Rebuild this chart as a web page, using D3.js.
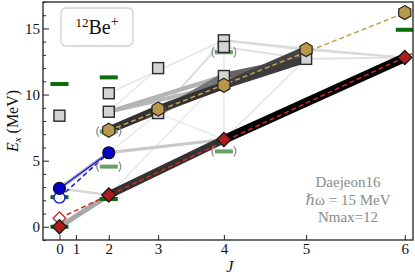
<!DOCTYPE html>
<html>
<head>
<meta charset="utf-8">
<script src="https://cdn.jsdelivr.net/npm/d3@7"></script>
<style>
body { margin: 0; background: #fff; }
svg { display: block; }
text { font-family: "Liberation Serif", "DejaVu Serif", serif; }
</style>
</head>
<body>
<div id="chart"></div>
<script>
// J values shown on the axis (axis runs in J(J+1))
var jTicks = [0, 1, 2, 3, 4, 5, 6];
var yMajor = [0, 5, 10, 15];

// yrast band (red diamonds)
var redJ = [0, 2, 4, 6];
var redE = [0, 2.4, 6.6, 12.8];
// second 0+ band (blue circles)
var blueJ = [0, 2];
var blueE = [2.9, 5.6];
// gold band (hexagons)
var goldJ = [2, 3, 4, 5, 6];
var goldE = [7.3, 8.9, 10.7, 13.4, 16.2];
// other calculated states (grey squares)
var otherJ = [0, 2, 2, 3, 3, 4, 4, 4, 5];
var otherE = [8.4, 10.1, 8.7, 12.0, 8.6, 14.1, 13.6, 11.4, 12.7];
// experimental levels
var expJ = [0, 0, 0, 2, 2, 6];
var expE = [0, 2.24, 10.8, 2.1, 11.3, 14.9];
// tentative experimental levels
var tentJ = [2, 2, 4, 4];
var tentE = [7.2, 4.55, 13.2, 5.7];

// rotational fits: E = a + b J(J+1)
var fitRed = { a: 0.65, b: 0.29, from: 0, to: 6.6 };
var fitBlue = { a: 2.2, b: 0.567, from: 0, to: 2 };
var fitGold = { a: 5.8, b: 0.247, from: 2, to: 6 };

// E2 transitions: [J1, E1, J2, E2, relative strength]
var transitions = [
    [4, 6.6, 6, 12.8, 1.0],
    [2, 2.4, 4, 6.6, 0.85],
    [0, 0, 2, 2.4, 0.5],
    [0, 2.9, 2, 5.6, 0.35],
    [2, 7.3, 3, 8.9, 0.85],
    [3, 8.9, 4, 10.7, 0.85],
    [4, 10.7, 5, 13.4, 0.8],
    [4, 10.7, 5, 12.7, 0.82],
    [2, 7.3, 4, 10.7, 0.7],
    [3, 8.6, 4, 11.4, 0.65],
    [4, 11.4, 5, 12.7, 0.7],
    [2, 8.7, 4, 11.4, 0.42],
    [2, 8.7, 4, 10.7, 0.38],
    [2, 5.6, 4, 6.6, 0.28],
    [0, 2.9, 2, 2.4, 0.18],
    [3, 8.6, 4, 14.1, 0.14],
    [4, 14.1, 5, 13.4, 0.16],
    [4, 13.6, 5, 12.7, 0.12],
    [5, 13.4, 6, 12.8, 0.16],
    [5, 12.7, 6, 12.8, 0.12],
    [4, 14.1, 6, 12.8, 0.1],
    [4, 6.6, 4, 13.6, 0.06],
    [2, 2.4, 4, 11.4, 0.06],
    [4, 6.6, 5, 12.7, 0.08],
    [3, 8.6, 4, 6.6, 0.06],
    [2, 5.6, 3, 8.6, 0.06],
    [2, 10.1, 4, 14.1, 0.08],
    [3, 12.0, 2, 8.7, 0.06]
];

var width = 415, height = 277;
var margin = { top: 2, right: 2, bottom: 37, left: 43 };
var w = width - margin.left - margin.right,
    h = height - margin.top - margin.bottom;

function jj(J) { return J * (J + 1); }

var x = d3.scaleLinear().domain([-2, 43]).range([0, w]);
var y = d3.scaleLinear().domain([-1, 17]).range([h, 0]);
var strokeW = d3.scaleLinear().domain([0, 1]).range([1, 9]);
var strokeC = d3.scaleLinear().domain([0, 0.5, 1]).range(["#f2f2f2", "#a8a8a8", "#000000"]);

var svg = d3.select("#chart").append("svg")
    .attr("width", width)
    .attr("height", height);

svg.append("defs").append("clipPath").attr("id", "clip")
    .append("rect").attr("width", w).attr("height", h);

var g = svg.append("g")
    .attr("transform", "translate(" + margin.left + "," + margin.top + ")");

var plot = g.append("g").attr("clip-path", "url(#clip)");

// transitions, weak first
var tr = transitions.slice().sort(function (a, b) { return a[4] - b[4]; });
plot.selectAll("line.tr").data(tr).enter().append("line")
    .attr("class", "tr")
    .attr("x1", function (d) { return x(jj(d[0])); })
    .attr("y1", function (d) { return y(d[1]); })
    .attr("x2", function (d) { return x(jj(d[2])); })
    .attr("y2", function (d) { return y(d[3]); })
    .attr("stroke", function (d) { return strokeC(d[4]); })
    .attr("stroke-width", function (d) { return strokeW(d[4]); })
    .attr("stroke-linecap", "butt");

// blue band solid connector
plot.append("line")
    .attr("x1", x(jj(blueJ[0]))).attr("y1", y(blueE[0]))
    .attr("x2", x(jj(blueJ[1]))).attr("y2", y(blueE[1]))
    .attr("stroke", "#1010e0").attr("stroke-width", 1.2);

function fitLine(f, color) {
    var xs = [jj(f.from), f.to * (f.to + 1)];
    if (f.to > 6) xs[1] = 43;
    plot.append("line")
        .attr("x1", x(xs[0])).attr("y1", y(f.a + f.b * xs[0]))
        .attr("x2", x(xs[1])).attr("y2", y(f.a + f.b * xs[1]))
        .attr("stroke", color).attr("stroke-width", 1.5)
        .attr("stroke-dasharray", "5,3");
}
fitLine(fitRed, "#d02828");
fitLine(fitBlue, "#1a1ae0");
fitLine(fitGold, "#c4a050");

// experimental levels
plot.selectAll("rect.exp").data(expJ).enter().append("rect")
    .attr("class", "exp")
    .attr("x", function (d) { return x(jj(d)) - 9; })
    .attr("y", function (d, i) { return y(expE[i]) - 2; })
    .attr("width", 18).attr("height", 4)
    .attr("fill", "#0a6e0a");

// tentative levels with brackets
var tent = plot.selectAll("g.tent").data(tentJ).enter().append("g")
    .attr("class", "tent")
    .attr("transform", function (d, i) {
        return "translate(" + x(jj(d)) + "," + y(tentE[i]) + ")";
    });
tent.append("rect").attr("x", -9).attr("y", -2).attr("width", 18).attr("height", 4)
    .attr("fill", "#67a067");
tent.append("path").attr("d", "M-10,-5 Q-14,0 -10,5 M10,-5 Q14,0 10,5")
    .attr("fill", "none").attr("stroke", "#909090").attr("stroke-width", 1.3);

// open markers: fit intercepts
plot.append("path")
    .attr("d", d3.symbol(d3.symbolSquare, 80)())
    .attr("transform", "translate(" + x(0) + "," + y(fitRed.a) + ") rotate(45)")
    .attr("fill", "#fff").attr("stroke", "#c02020").attr("stroke-width", 1.3);
plot.append("circle")
    .attr("cx", x(0)).attr("cy", y(fitBlue.a)).attr("r", 5.5)
    .attr("fill", "#fff").attr("stroke", "#1010d0").attr("stroke-width", 1.3);

// grey squares
plot.selectAll("rect.other").data(otherJ).enter().append("rect")
    .attr("class", "other")
    .attr("x", function (d) { return x(jj(d)) - 5.5; })
    .attr("y", function (d, i) { return y(otherE[i]) - 5.5; })
    .attr("width", 11).attr("height", 11)
    .attr("fill", "#d3d3d3").attr("stroke", "#2a2a2a").attr("stroke-width", 1.4);

// hexagons
var hex = d3.range(6).map(function (k) {
    var a = Math.PI / 3 * k - Math.PI / 2;
    return [7 * Math.cos(a), 7 * Math.sin(a)];
});
plot.selectAll("path.gold").data(goldJ).enter().append("path")
    .attr("class", "gold")
    .attr("d", "M" + hex.join("L") + "Z")
    .attr("transform", function (d, i) {
        return "translate(" + x(jj(d)) + "," + y(goldE[i]) + ")";
    })
    .attr("fill", "#b8964a").attr("stroke", "#222").attr("stroke-width", 1.2);

// blue circles
plot.selectAll("circle.blue").data(blueJ).enter().append("circle")
    .attr("class", "blue")
    .attr("cx", function (d) { return x(jj(d)); })
    .attr("cy", function (d, i) { return y(blueE[i]); })
    .attr("r", 6)
    .attr("fill", "#0000c8").attr("stroke", "#111").attr("stroke-width", 1.2);

// red diamonds
plot.selectAll("path.red").data(redJ).enter().append("path")
    .attr("class", "red")
    .attr("d", d3.symbol(d3.symbolSquare, 100)())
    .attr("transform", function (d, i) {
        return "translate(" + x(jj(d)) + "," + y(redE[i]) + ") rotate(45)";
    })
    .attr("fill", "#ac1e1e").attr("stroke", "#111").attr("stroke-width", 1.2);

// axes
var xAxis = g.append("g")
    .attr("transform", "translate(0," + h + ")")
    .call(d3.axisBottom(x)
        .tickValues(jTicks.map(jj))
        .tickFormat(function (d, i) { return jTicks[i]; })
        .tickSizeInner(-5).tickSizeOuter(0).tickPadding(3));

var yAxis = g.append("g")
    .call(d3.axisLeft(y)
        .tickValues(yMajor)
        .tickSizeInner(-6).tickSizeOuter(0).tickPadding(3));

g.append("g")
    .call(d3.axisLeft(y)
        .tickValues(d3.range(-1, 18).filter(function (v) { return yMajor.indexOf(v) < 0; }))
        .tickFormat("").tickSizeInner(-3).tickSizeOuter(0))
    .select(".domain").remove();

g.selectAll(".tick line").attr("stroke", "#222").attr("stroke-width", 1);
g.selectAll(".tick text")
    .attr("font-size", 15).attr("fill", "#111")
    .style("font-family", "'Liberation Serif', serif");
g.selectAll(".domain").attr("stroke", "none");

g.append("rect")
    .attr("width", w).attr("height", h)
    .attr("fill", "none").attr("stroke", "#222").attr("stroke-width", 1.3);

// axis labels
var yl = svg.append("text")
    .attr("transform", "translate(18," + (margin.top + h / 2) + ") rotate(-90)")
    .attr("text-anchor", "middle")
    .attr("font-size", 16).attr("fill", "#111");
yl.append("tspan").attr("font-style", "italic").text("E");
yl.append("tspan").attr("font-style", "italic").attr("font-size", 11).attr("dy", 3).text("x");
yl.append("tspan").attr("dy", -3).text(" (MeV)");

svg.append("text")
    .attr("x", margin.left + x(jj(4)) + 6).attr("y", 272)
    .attr("text-anchor", "middle")
    .attr("font-size", 16).attr("font-style", "italic").attr("fill", "#111")
    .text("J");

// nucleus label box
g.append("rect")
    .attr("x", 18).attr("y", 6).attr("width", 72).attr("height", 38).attr("rx", 5)
    .attr("fill", "#fff").attr("stroke", "#d0d0d0").attr("stroke-width", 1.3);
var nl = g.append("text")
    .attr("x", 54).attr("y", 32)
    .attr("text-anchor", "middle")
    .attr("font-size", 20).attr("fill", "#111");
nl.append("tspan").attr("font-size", 13).attr("dy", -7).text("12");
nl.append("tspan").attr("dy", 7).text("Be");
nl.append("tspan").attr("font-size", 14).attr("dy", -8).text("+");

// interaction info
var info = ["Daejeon16", "\u210F\u03C9 = 15 MeV", "Nmax=12"];
g.selectAll("text.info").data(info).enter().append("text")
    .attr("class", "info")
    .attr("x", 305).attr("y", function (d, i) { return 185 + i * 17.5; })
    .attr("text-anchor", "middle")
    .attr("font-size", 15).attr("fill", "#8a8a8a")
    .text(function (d) { return d; });
</script>
</body>
</html>
